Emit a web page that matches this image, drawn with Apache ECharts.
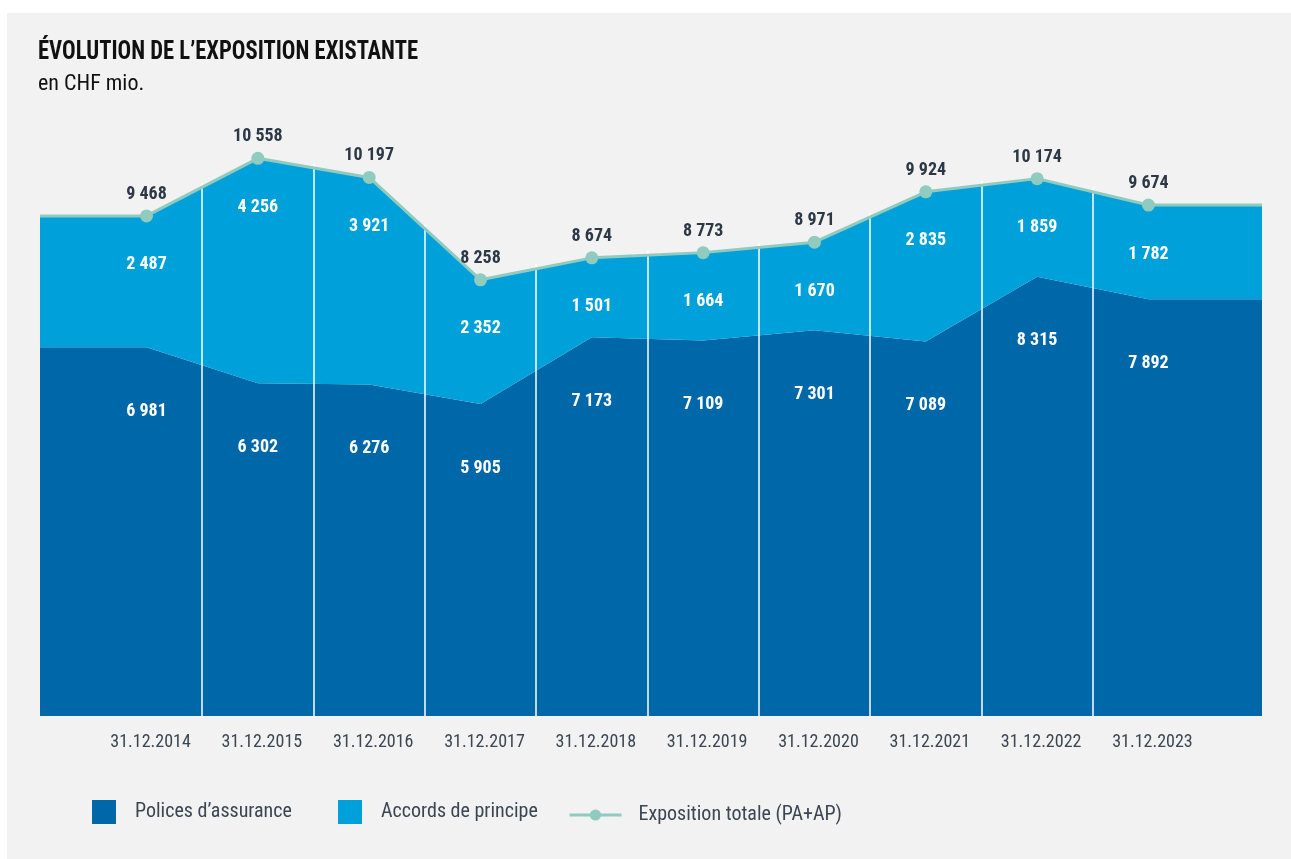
<!DOCTYPE html>
<html>
<head>
<meta charset="utf-8">
<script src="https://cdn.jsdelivr.net/npm/echarts@6/dist/echarts.min.js"></script>
<style>
  html, body { margin: 0; padding: 0; background: #ffffff; }
  #chart { width: 1291px; height: 859px; }
</style>
</head>
<body>
<div id="chart"></div>
<script>
// ---- data ----
const dates = ['31.12.2014','31.12.2015','31.12.2016','31.12.2017','31.12.2018','31.12.2019','31.12.2020','31.12.2021','31.12.2022','31.12.2023'];
const polices = [6981, 6302, 6276, 5905, 7173, 7109, 7301, 7089, 8315, 7892];
const accords = [2487, 4256, 3921, 2352, 1501, 1664, 1670, 2835, 1859, 1782];
const totals  = [9468, 10558, 10197, 8258, 8674, 8773, 8971, 9924, 10174, 9674];
const seriesNames = ['Polices d\u2019assurance', 'Accords de principe', 'Exposition totale (PA+AP)'];

// ---- layout ----
const X_MIN = -0.957, X_MAX = 10.02;
const FONT = "'Roboto Condensed', 'Liberation Sans Narrow', 'DejaVu Sans Condensed', Roboto, sans-serif";
const C_PA = '#0067a9', C_AP = '#00a1da', C_LINE = '#8fcbbf';
const C_TEXT = '#2c3846', C_AXIS = '#3a4653';

function fmt(v) {
  return String(v).replace(/\B(?=(\d{3})+(?!\d))/g, ' ');
}
// points stored as [value, position] so the stack applies to the value dimension
function withEdges(arr) {
  const out = [[arr[0], X_MIN]];
  arr.forEach((v, i) => out.push([v, i]));
  out.push([arr[arr.length - 1], X_MAX]);
  return out;
}
const lastIdx = dates.length + 1;
const isEdge = (idx) => idx === 0 || idx === lastIdx;

const dividers = [];
for (let i = 0; i < dates.length - 1; i++) {
  dividers.push([
    { coord: [i + 0.5, 0] },
    { coord: [i + 0.5, (totals[i] + totals[i + 1]) / 2 + 80] }
  ]);
}

const labelFont = { fontFamily: FONT, fontSize: 18, fontWeight: 'bold' };
const legendText = { fontFamily: FONT, fontSize: 20, color: C_AXIS };

const chart = echarts.init(document.getElementById('chart'), null, { renderer: 'canvas' });
chart.setOption({
  animation: false,
  backgroundColor: 'transparent',
  graphic: [
    { type: 'rect', silent: true, z: -100,
      shape: { x: 7, y: 13, width: 1284, height: 846 },
      style: { fill: '#f2f2f2' } },
    { type: 'text', x: 38, y: 39, scaleX: 0.87, silent: true,
      style: { text: '\u00c9VOLUTION DE L\u2019EXPOSITION EXISTANTE', fontFamily: FONT, fontSize: 26, fontWeight: 'bold', fill: '#111', verticalAlign: 'top' } },
    { type: 'text', x: 38, y: 73, silent: true,
      style: { text: 'en CHF mio.', fontFamily: FONT, fontSize: 22, fill: '#111', verticalAlign: 'top' } }
  ],
  legend: [
    { data: [seriesNames[0]], left: 92, top: 800, padding: 0, itemWidth: 24, itemHeight: 24, icon: 'rect',
      textStyle: Object.assign({ padding: [0, 0, 0, 14] }, legendText) },
    { data: [seriesNames[1]], left: 338, top: 800, padding: 0, itemWidth: 24, itemHeight: 24, icon: 'rect',
      textStyle: Object.assign({ padding: [0, 0, 0, 14] }, legendText) },
    { data: [seriesNames[2]], left: 568, top: 805, padding: 0, itemWidth: 52, itemHeight: 14,
      lineStyle: { width: 3 },
      textStyle: Object.assign({ padding: [0, 0, 0, 12] }, legendText) }
  ],
  grid: { left: 40, right: 29, top: 135, bottom: 143 },
  xAxis: {
    type: 'value', min: X_MIN, max: X_MAX,
    axisLine: { show: false }, axisTick: { show: false }, splitLine: { show: false },
    axisLabel: {
      customValues: dates.map((d, i) => i),
      formatter: (v) => dates[Math.round(v)] || '',
      fontFamily: FONT, fontSize: 18, color: C_AXIS, margin: 17,
      padding: [0, 0, 0, 8]
    }
  },
  yAxis: { type: 'value', min: 0, max: 11000, show: false },
  series: [
    {
      name: seriesNames[0], type: 'line', stack: 'exp', z: 2,
      encode: { x: 1, y: 0 },
      data: withEdges(polices),
      symbol: 'circle', symbolSize: 0, showSymbol: true,
      lineStyle: { width: 0 }, itemStyle: { color: C_PA },
      areaStyle: { color: C_PA, opacity: 1 },
      label: Object.assign({
        show: true, position: 'bottom', distance: 55, color: '#fff',
        formatter: (p) => isEdge(p.dataIndex) ? '' : fmt(p.value[0])
      }, labelFont),
      markLine: {
        silent: true, symbol: 'none', label: { show: false }, z: 5,
        lineStyle: { color: '#ffffff', width: 1.5, type: 'solid' },
        emphasis: { disabled: true },
        data: dividers
      }
    },
    {
      name: seriesNames[1], type: 'line', stack: 'exp', z: 2,
      encode: { x: 1, y: 0 },
      data: withEdges(accords),
      symbol: 'circle', symbolSize: 0, showSymbol: true,
      lineStyle: { width: 0 }, itemStyle: { color: C_AP },
      areaStyle: { color: C_AP, opacity: 1 },
      label: Object.assign({
        show: true, position: 'bottom', distance: 40, color: '#fff',
        formatter: (p) => isEdge(p.dataIndex) ? '' : fmt(p.value[0])
      }, labelFont)
    },
    {
      name: seriesNames[2], type: 'line', z: 10,
      encode: { x: 1, y: 0 },
      data: withEdges(totals),
      symbol: 'circle',
      symbolSize: (val, p) => isEdge(p.dataIndex) ? 0 : 13,
      showSymbol: true,
      lineStyle: { color: C_LINE, width: 3 },
      itemStyle: { color: C_LINE },
      label: Object.assign({
        show: true, position: 'top', distance: 6, color: C_TEXT,
        formatter: (p) => isEdge(p.dataIndex) ? '' : fmt(p.value[0])
      }, labelFont)
    }
  ]
});
</script>
</body>
</html>
